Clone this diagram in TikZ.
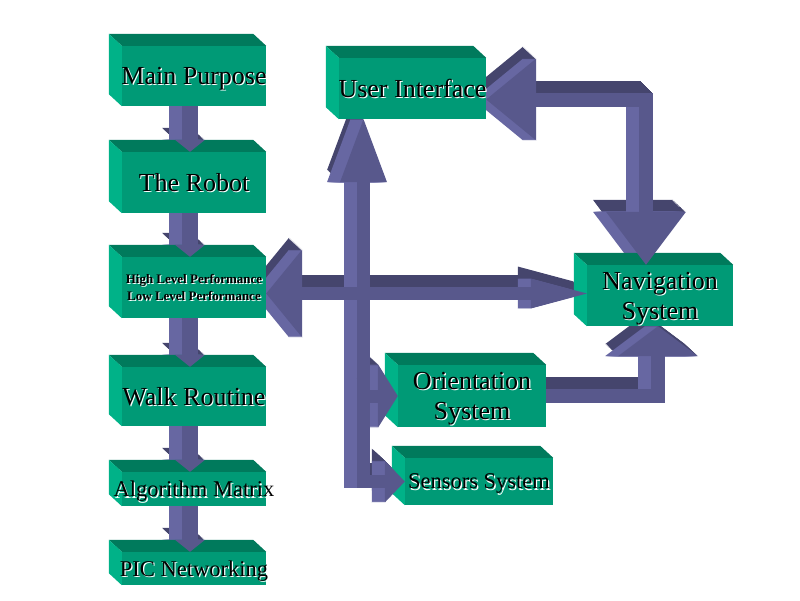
\documentclass[tikz,border=0pt]{standalone}
\usepackage{fontspec}
\setmainfont{Liberation Serif}
\usepackage{tikz}
\usetikzlibrary{arrows.meta}

\definecolor{boxfront}{HTML}{009A76}
\definecolor{boxtop}{HTML}{007A5C}
\definecolor{boxleft}{HTML}{00B288}
\definecolor{arrowfront}{HTML}{58588C}
\definecolor{arrowtop}{HTML}{45456D}
\definecolor{arrowside}{HTML}{6767A2}

\pgfdeclarelayer{back}
\pgfdeclarelayer{faces}
\pgfdeclarelayer{front}
\pgfsetlayers{back,faces,main,front}

% text with a light shadow, zero width so the box keeps its size
\newcommand{\embossed}[1]{\makebox[0pt]{\rlap{\kern1.2pt\raisebox{-1.2pt}{\color{white}#1}}#1}}

% block arrow pushed back into the page
\newcommand{\solidarrow}[2]{%
  \begin{pgfonlayer}{back}
    \foreach \k in {13,...,1}
      \draw[#1, arrowtop, transform canvas={xshift=-\k*1pt, yshift=\k*0.92pt}] #2;
    \foreach \k in {13,...,1}
      \draw[#1, arrowside, transform canvas={xshift=-\k*1pt}] #2;
  \end{pgfonlayer}
  \begin{pgfonlayer}{front}
    \draw[#1, arrowfront] #2;
  \end{pgfonlayer}}

\begin{document}
\begin{tikzpicture}[x=1pt, y=-1pt]
    \tikzset{box/.style = {fill=boxfront, inner sep=0pt, minimum width=144pt, align=center, text depth=0pt}}
    \tikzset{bigtext/.style = {font=\fontsize{26}{30}\selectfont}}
    \tikzset{midtext/.style = {font=\fontsize{22.5}{26}\selectfont}}
    \tikzset{smalltext/.style = {font=\fontsize{13}{17}\selectfont\bfseries}}
    \tikzset{stack/.style = {line width=16pt, -{Triangle[length=12pt, width=30pt, line width=0pt]}}}
    \tikzset{pipe/.style = {line width=13pt}}

    \useasboundingbox (0,0) rectangle (800,600);

    \node[box, bigtext, minimum height=60pt] (main) at (194, 76) {\embossed{Main Purpose}};
    \node[box, bigtext, minimum height=61pt] (robot) at (194, 182.5) {\embossed{The Robot}};
    \node[box, smalltext, minimum height=61pt] (hl) at (194, 287.5) {\embossed{High Level Performance}\\\embossed{Low Level Performance}};
    \node[box, bigtext, minimum height=59pt] (walk) at (194, 396.5) {\embossed{Walk Routine}};
    \node[box, midtext, minimum height=34pt] (alg) at (194, 489) {\embossed{Algorithm Matrix}};
    \node[box, midtext, minimum height=33pt] (pic) at (194, 568.5) {\embossed{PIC Networking}};
    \node[box, bigtext, minimum width=147pt, minimum height=61pt] (ui) at (412.5, 88.5) {\embossed{User Interface}};
    \node[box, bigtext, minimum width=146pt, minimum height=61pt] (nav) at (660, 295.5) {\embossed{Navigation}\\\embossed{System}};
    \node[box, bigtext, minimum width=148pt, minimum height=62pt] (orient) at (472, 396) {\embossed{Orientation}\\\embossed{System}};
    \node[box, midtext, minimum width=148pt, minimum height=47pt] (sens) at (479, 481.5) {\embossed{Sensors System}};

    % bevelled top and left faces
    \begin{pgfonlayer}{faces}
      \foreach \n in {main,robot,hl,walk,alg,pic,ui,nav,orient,sens} {
        \fill[boxtop] (\n.north west) -- ++(-13,-12) -- ([shift={(-13,-12)}]\n.north east) -- (\n.north east) -- cycle;
        \fill[boxleft] (\n.north west) -- ++(-13,-12) -- ([shift={(-13,-12)}]\n.south west) -- (\n.south west) -- cycle;
      }
    \end{pgfonlayer}

    % left column
    \foreach \a/\b in {main/robot, robot/hl, hl/walk, walk/alg, alg/pic} {
      \solidarrow{stack}{([xshift=-4pt]\a.south) -- ([xshift=-4pt]\b.north)}
    }

    \coordinate (hlrow) at ([yshift=-6pt]hl.east);
    \coordinate (uiin) at ([xshift=-49pt]ui.south);
    \coordinate (uiout) at ([yshift=-11pt]ui.east);
    \coordinate (branch) at (uiin |- orient.west);

    \solidarrow{pipe, {Triangle[length=36pt, width=88pt, line width=0pt]}-{Triangle[length=56pt, width=30pt, line width=0pt]}}{(hlrow) -- (hlrow -| nav.west)}
    \solidarrow{pipe, {Triangle[length=63pt, width=47pt, line width=0pt]}-{Triangle[length=20pt, width=42pt, line width=0pt]}}{(uiin) |- (sens.west)}
    \solidarrow{pipe, -{Triangle[length=20pt, width=64pt, line width=0pt]}}{([xshift=6pt]branch) -- (orient.west)}
    \solidarrow{pipe, line width=14pt, -{Triangle[length=30pt, width=80pt, line width=0pt]}}{(orient.east) -| ([xshift=-2pt]nav.south)}
    \solidarrow{pipe, line width=14pt, {Triangle[length=50pt, width=82pt, line width=0pt]}-{Triangle[length=53pt, width=80pt, line width=0pt]}}{(uiout) -| ([xshift=-14pt]nav.north)}

\end{tikzpicture}
\end{document}
